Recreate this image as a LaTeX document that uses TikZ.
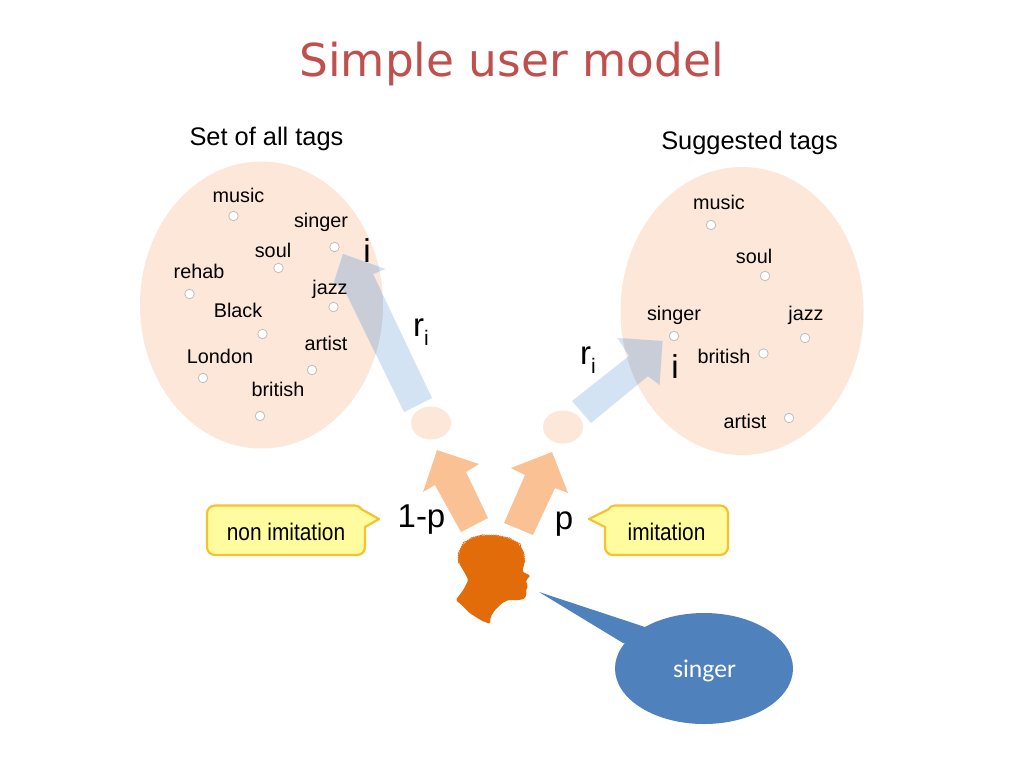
\documentclass[tikz,border=0pt]{standalone}
\usepackage{fontspec}
\setmainfont{Liberation Sans}
\newfontfamily\bodyfont{Carlito}
\newfontfamily\titlefont{DejaVu Sans}
\usetikzlibrary{shapes.geometric,decorations.pathmorphing}
\definecolor{peach}{HTML}{FCE7D8}
\definecolor{paleblue}{HTML}{D4E3F4}
\definecolor{overlapgray}{HTML}{C9CDD8}
\definecolor{softorange}{HTML}{F9C194}
\definecolor{headorange}{HTML}{E36C0A}
\definecolor{titlered}{HTML}{C0504D}
\definecolor{bubbleblue}{HTML}{4F81BD}
\definecolor{calloutfill}{HTML}{FFFCA0}
\definecolor{calloutline}{HTML}{F7C22E}
\tikzset{
  x=1pt,y=-1pt,
  blob/.style={ellipse,fill=peach,draw=none,inner sep=0pt},
  tagdot/.style={circle,fill=white,draw=black!25,line width=0.8pt,minimum size=9.5pt,inner sep=0pt},
  taglabel/.style={anchor=base,inner sep=0pt,font=\fontsize{19.8}{20}\selectfont},
  settitle/.style={anchor=base,inner sep=0pt,font=\fontsize{25.4}{26}\selectfont},
  biglabel/.style={anchor=base,inner sep=0pt,font=\fontsize{33}{33}\selectfont},
  callouttext/.style={anchor=base,inner sep=0pt,font=\fontsize{24}{24}\selectfont,xscale=0.87,transform shape},
  calloutbox/.style={fill=calloutfill,draw=calloutline,line width=2.2pt,line join=round},
}
\newcommand{\rsub}{r\raisebox{-0.28em}{\fontsize{21}{21}\selectfont i}}
\newcommand{\leftbluearrow}{(404,412) -- (432,398) -- (373,274) -- (385.5,269) -- (343,254) -- (334,282) -- (346,293) -- cycle}
\newcommand{\rightbluearrow}{(572,401) -- (591,423) -- (648,376) -- (659.5,385) -- (662.5,341) -- (617.5,338) -- (629,356) -- cycle}
\begin{document}
\begin{tikzpicture}
\useasboundingbox (0,0) rectangle (1024,768);
\fill[white] (0,0) rectangle (1024,768);

% title
\node[anchor=base,inner sep=0pt,text=titlered,font=\titlefont\fontsize{45.4}{46}\selectfont] (title) at (511.5,76) {Simple user model};
\node[settitle] (settitleL) at (266.5,145) {Set of all tags};
\node[settitle] (settitleR) at (749.5,149) {Suggested tags};

% big ellipses
\node[blob,minimum width=243pt,minimum height=287pt] (setL) at (261.5,305) {};
\node[blob,minimum width=243pt,minimum height=288pt] (setR) at (742,311) {};
\node[blob,minimum width=40pt,minimum height=33pt] (choiceL) at (431,423) {};
\node[blob,minimum width=40pt,minimum height=33pt] (choiceR) at (563,427) {};

% translucent block arrows
\fill[paleblue] \leftbluearrow;
\fill[paleblue] \rightbluearrow;
\begin{scope}
  \clip (261.5,305) ellipse [x radius=121.5,y radius=143.5];
  \fill[overlapgray] \leftbluearrow;
\end{scope}
\begin{scope}
  \clip (742,311) ellipse [x radius=121.5,y radius=144];
  \fill[overlapgray] \rightbluearrow;
\end{scope}

% left tags
\node[tagdot] (dl1) at (233.5,216) {};
\node[tagdot] (dl2) at (334.5,247) {};
\node[tagdot] (dl3) at (278.5,268) {};
\node[tagdot] (dl4) at (189.5,294) {};
\node[tagdot] (dl5) at (333.5,307) {};
\node[tagdot] (dl6) at (262.5,334) {};
\node[tagdot] (dl7) at (312,370) {};
\node[tagdot] (dl8) at (203,378) {};
\node[tagdot] (dl9) at (260,416) {};
\node[taglabel] (tl1) at (238.5,202) {music};
\node[taglabel] (tl2) at (321,227) {singer};
\node[taglabel] (tl3) at (273,257) {soul};
\node[taglabel] (tl4) at (199,278) {rehab};
\node[taglabel] (tl5) at (330,294) {jazz};
\node[taglabel] (tl6) at (238,317) {Black};
\node[taglabel] (tl7) at (326,350) {artist};
\node[taglabel] (tl8) at (220,363) {London};
\node[taglabel] (tl9) at (278,396) {british};

% right tags
\node[tagdot] (dr1) at (711,225) {};
\node[tagdot] (dr2) at (765,276) {};
\node[tagdot] (dr3) at (674,336) {};
\node[tagdot] (dr4) at (805,338) {};
\node[tagdot] (dr5) at (763.5,353.5) {};
\node[tagdot] (dr6) at (789,418) {};
\node[taglabel] (tr1) at (719,209) {music};
\node[taglabel] (tr2) at (754,263) {soul};
\node[taglabel] (tr3) at (674,320) {singer};
\node[taglabel] (tr4) at (806,320) {jazz};
\node[taglabel] (tr5) at (724,363) {british};
\node[taglabel] (tr6) at (745,428) {artist};

% orange block arrows
\fill[softorange] (461,532) -- (488,518) -- (466,472) -- (479,464) -- (437,450) -- (423,492) -- (435,485) -- cycle;
\fill[softorange] (504,523) -- (533,535) -- (555,488) -- (568,493) -- (552,452) -- (511,468) -- (525,475) -- cycle;

% big labels
\node[biglabel] (iL) at (367,262) {i};
\node[biglabel] (iR) at (675,378) {i};
\node[biglabel] (rL) at (421,336) {\rsub};
\node[biglabel] (rR) at (588,364) {\rsub};
\node[biglabel] (oneminus) at (421.5,527) {1-p};
\node[biglabel] (pL) at (564,529) {p};

% callouts
\draw[calloutbox] (215,505.5) -- (355,505.5) arc[start angle=-90,end angle=-30,radius=8] -- (379,519) -- (365,527) -- (365,547) arc[start angle=0,end angle=90,radius=8] -- (215,555) arc[start angle=90,end angle=180,radius=8] -- (207,513.5) arc[start angle=180,end angle=270,radius=8] -- cycle;
\node[callouttext] (nonimit) at (286,540) {non imitation};
\draw[calloutbox] (720,505.5) -- (615,505.5) arc[start angle=-90,end angle=-150,radius=8] -- (589,519) -- (605,527) -- (605,547) arc[start angle=180,end angle=90,radius=8] -- (720,555) arc[start angle=90,end angle=0,radius=8] -- (728,513.5) arc[start angle=0,end angle=-90,radius=8] -- cycle;
\node[callouttext] (imit) at (666.5,540) {imitation};

% head silhouette
\begin{scope}[shift={(445,530)},x=0.3333pt,y=-0.3333pt]
\fill[headorange,rounded corners=1.5pt] (32,210) -- (55,180) -- (70,150) -- (60,130) -- (42,100) -- (42,70) -- (55,42) -- (80,25) -- (110,17) -- (150,17) -- (190,25) -- (220,40) -- (235,70) -- (238,100) -- (232,125) -- (257,137) -- (245,148) -- (243,158) -- (250,168) -- (243,178) -- (245,190) -- (240,205) -- (225,210) -- (190,210) -- (170,220) -- (150,240) -- (137,260) -- (135,282) -- (110,272) -- (75,250) -- (50,225) -- cycle;
\draw[headorange,line width=0.8pt,decorate,decoration={bumps,segment length=4.5pt,amplitude=0.7pt}] (42,100) -- (42,70) -- (55,42) -- (80,25) -- (110,17) -- (150,17) -- (190,25) -- (220,40) -- (235,70) -- (238,100);
\end{scope}

% speech bubble
\node[ellipse,fill=bubbleblue,draw=none,inner sep=0pt,minimum width=178pt,minimum height=111pt] (speech) at (704,668.5) {};
\coordinate (speechtip) at (539,592);
\fill[bubbleblue] (speechtip) -- (645,627) -- (660,650) -- (623,643) -- cycle;
\node[anchor=base,inner sep=0pt,text=white,font=\bodyfont\fontsize{25.6}{26}\selectfont] (speechtext) at (704.5,677) {singer};
\end{tikzpicture}
\end{document}
